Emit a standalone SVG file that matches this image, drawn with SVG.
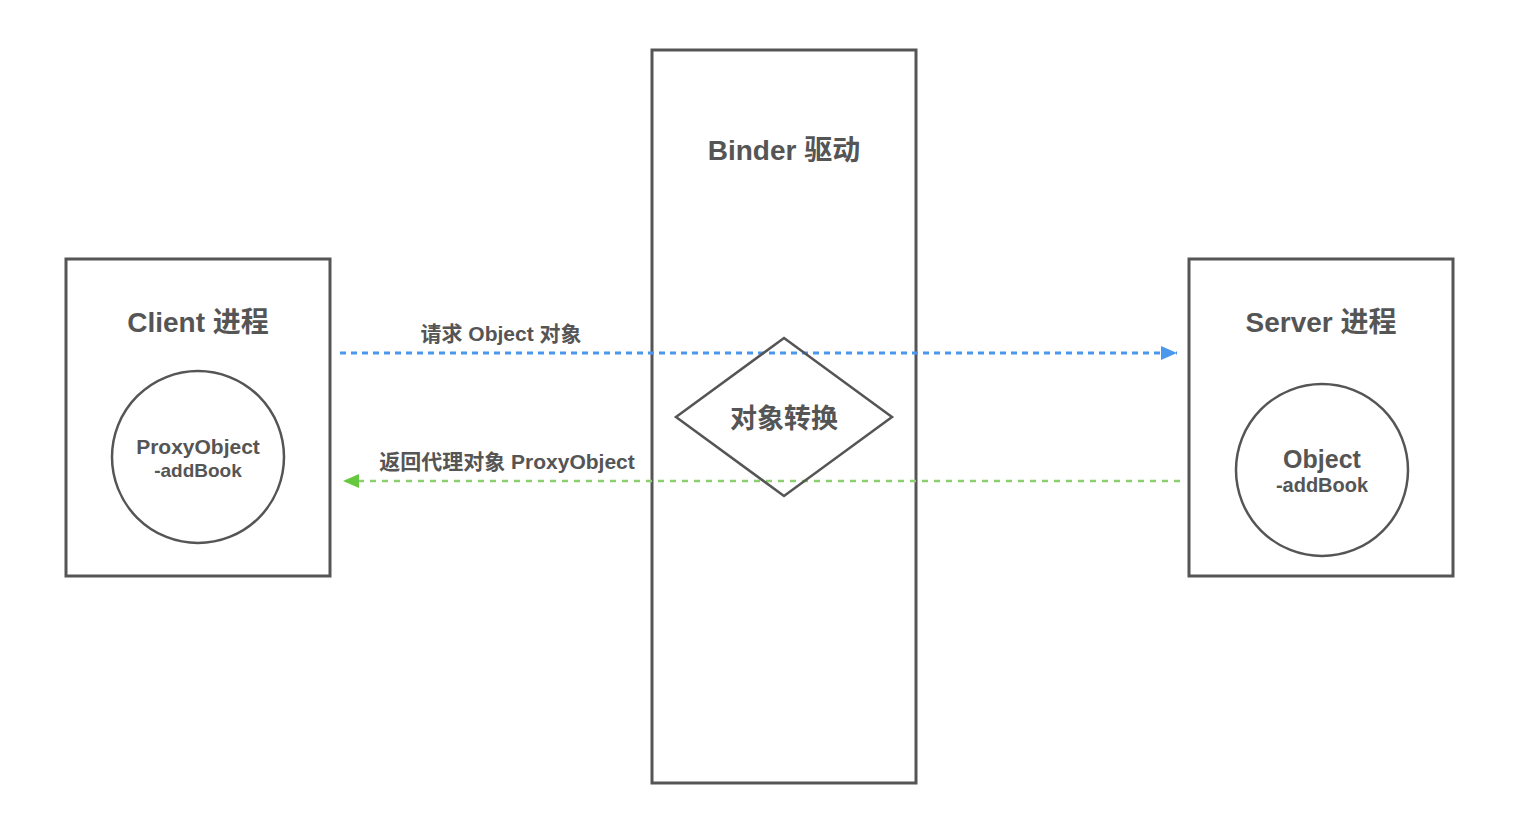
<svg xmlns="http://www.w3.org/2000/svg" width="1520" height="838" viewBox="0 0 1520 838">
<defs>
<style>
.box{fill:#fff;stroke:#555;stroke-width:3}
.shape{fill:#fff;stroke:#555;stroke-width:2.5}
.t{font-family:"Liberation Sans","Noto Sans CJK SC",sans-serif;font-weight:bold;fill:#555;text-anchor:middle}
.req{fill:none;stroke:#4a98ee;stroke-width:3;stroke-dasharray:6 5}
.ret{fill:none;stroke:#8ccf6e;stroke-width:2.5;stroke-dasharray:6 6}
</style>
<marker id="ab" markerWidth="18" markerHeight="14" refX="16" refY="7" orient="auto" markerUnits="userSpaceOnUse"><path d="M0,0 L16,7 L0,14 Z" fill="#4a98ee"/></marker>
<marker id="ag" markerWidth="18" markerHeight="14" refX="16" refY="7" orient="auto" markerUnits="userSpaceOnUse"><path d="M0,0 L16,7 L0,14 Z" fill="#66c83e"/></marker>
</defs>
<rect width="1520" height="838" fill="#fff"/>
<g id="binder">
<rect class="box" x="652" y="50" width="264" height="733"/>
<text class="t" x="784" y="160" font-size="28">Binder 驱动</text>
</g>
<g id="client">
<rect class="box" x="66" y="259" width="264" height="317"/>
<text class="t" x="198" y="332" font-size="28">Client 进程</text>
</g>
<g id="proxy">
<circle class="shape" cx="198" cy="457" r="86"/>
<text class="t" x="198" y="454" font-size="21">ProxyObject</text>
<text class="t" x="198" y="477" font-size="19">-addBook</text>
</g>
<g id="server">
<rect class="box" x="1189" y="259" width="264" height="317"/>
<text class="t" x="1321" y="332" font-size="28">Server 进程</text>
</g>
<g id="object">
<circle class="shape" cx="1322" cy="470" r="86"/>
<text class="t" x="1322" y="468" font-size="25">Object</text>
<text class="t" x="1322" y="492" font-size="20">-addBook</text>
</g>
<g id="connectors">
<line class="req" x1="340" y1="353" x2="1177" y2="353" marker-end="url(#ab)"/>
<line class="ret" x1="1180" y1="481" x2="343" y2="481" marker-end="url(#ag)"/>
<text class="t" x="501" y="341" font-size="21">请求 Object 对象</text>
<text class="t" x="507" y="469" font-size="21">返回代理对象 ProxyObject</text>
</g>
<g id="convert">
<path class="shape" d="M784,338 L892,417 L784,496 L676,417 Z" fill="none" style="fill:none"/>
<text class="t" x="784" y="428" font-size="27">对象转换</text>
</g>
</svg>
